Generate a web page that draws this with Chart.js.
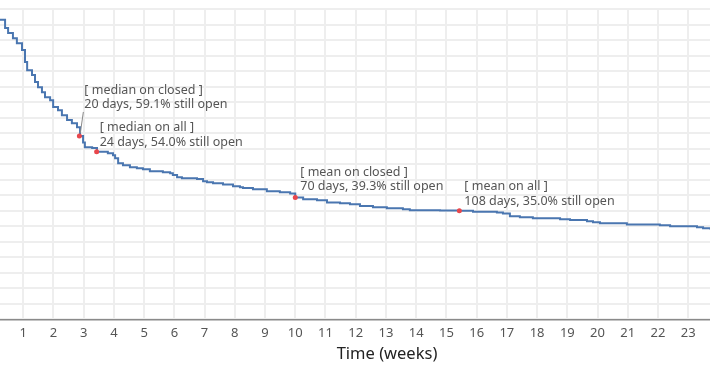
<!DOCTYPE html>
<html>
<head>
<meta charset="utf-8">
<script src="https://cdn.jsdelivr.net/npm/chart.js"></script>
<style>
  html, body { margin: 0; padding: 0; background: #fff; }
  #wrap { width: 710px; height: 375px; }
</style>
</head>
<body>
<div id="wrap"><canvas id="survChart"></canvas></div>
<script>
// share of issues still open (%) against time (weeks)
var weeks = [0.00, 0.23, 0.40, 0.50, 0.66, 0.79, 0.96, 1.06, 1.13, 1.29, 1.39, 1.49, 1.62, 1.72, 1.89,
  1.99, 2.15, 2.28, 2.45, 2.61, 2.78, 2.88, 2.98, 3.04, 3.28, 3.44, 3.80, 3.97, 4.04, 4.14,
  4.30, 4.53, 4.76, 4.96, 5.19, 5.62, 5.86, 5.95, 6.09, 6.25, 6.75, 6.95, 7.08, 7.28, 7.61,
  7.94, 8.17, 8.27, 8.60, 9.06, 9.49, 9.83, 10.00, 10.26, 10.72, 11.05, 11.48, 11.81, 12.14,
  12.57, 13.03, 13.56, 13.79, 14.79, 15.43, 15.88, 16.67, 16.87, 17.10, 17.43, 17.86, 18.76,
  19.09, 19.65, 19.85, 20.08, 20.97, 22.06, 22.40, 23.29, 23.49, 23.72];
var stillOpen = [100.0, 96.5, 93.9, 92.3, 90.6, 89.0, 86.8, 82.9, 80.3, 78.7, 76.5, 74.8, 73.2, 71.6, 70.6,
  68.4, 67.4, 65.8, 64.2, 63.2, 61.9, 59.1, 57.0, 55.5, 55.2, 54.0, 53.5, 52.9, 51.9, 50.3,
  49.7, 49.0, 48.7, 48.4, 47.7, 47.4, 47.1, 46.5, 45.8, 45.5, 45.2, 44.5, 44.2, 43.9, 43.5,
  42.9, 42.6, 42.3, 41.9, 41.3, 41.0, 40.6, 39.3, 38.7, 38.4, 37.7, 37.4, 37.1, 36.5,
  36.1, 35.8, 35.5, 35.2, 35.1, 35.0, 34.7, 34.4, 34.1, 33.2, 32.9, 32.6, 32.3,
  32.0, 31.6, 31.3, 31.0, 30.6, 30.3, 30.0, 29.7, 29.4, 29.0];

// marked statistics
var markNames = ['median on closed', 'median on all', 'mean on closed', 'mean on all'];
var markDays = [20, 24, 70, 108];
var markOpen = [59.1, 54.0, 39.3, 35.0];

var weekTicks = [1, 2, 3, 4, 5, 6, 7, 8, 9, 10, 11, 12, 13, 14, 15, 16, 17, 18, 19, 20, 21, 22, 23];
var xTitle = 'Time (weeks)';

var FONT = "'Noto Sans', sans-serif";

var curve = weeks.map(function(w, i) { return { x: w, y: stillOpen[i] }; });
var marks = markDays.map(function(d, i) { return { x: d / 7, y: markOpen[i] }; });

// label offsets from the marked point, in pixels
var labelOffsets = [
  { dx: 5, dy: -46, leader: true },
  { dx: 3, dy: -24, leader: false },
  { dx: 5, dy: -25, leader: false },
  { dx: 5, dy: -24, leader: false }
];

var markLabels = {
  id: 'markLabels',
  afterDatasetsDraw: function(chart) {
    var ctx = chart.ctx;
    var xs = chart.scales.x, ys = chart.scales.y;
    ctx.save();
    ctx.font = '12.5px ' + FONT;
    ctx.fillStyle = '#555';
    ctx.textBaseline = 'middle';
    marks.forEach(function(m, i) {
      var px = xs.getPixelForValue(m.x);
      var py = ys.getPixelForValue(m.y);
      var o = labelOffsets[i];
      var tx = px + o.dx, ty = py + o.dy;
      if (o.leader) {
        ctx.strokeStyle = '#888';
        ctx.lineWidth = 1;
        ctx.beginPath();
        ctx.moveTo(px + 1, py - 3);
        ctx.lineTo(tx - 1, ty + 22);
        ctx.stroke();
      }
      ctx.fillText('[ ' + markNames[i] + ' ]', tx, ty);
      ctx.fillText(markDays[i] + ' days, ' + markOpen[i].toFixed(1) + '% still open', tx, ty + 14.5);
    });
    // axis title: the original plot is wider than the view, so its title sits right of centre
    ctx.font = '16.5px ' + FONT;
    ctx.fillStyle = '#222';
    ctx.textAlign = 'center';
    ctx.fillText(xTitle, 387, xs.bottom + 7);
    ctx.restore();
  }
};

new Chart(document.getElementById('survChart').getContext('2d'), {
  type: 'scatter',
  data: {
    datasets: [{
      data: marks,
      showLine: false,
      pointRadius: 2.5,
      pointBackgroundColor: '#e8474c',
      pointBorderWidth: 0
    }, {
      data: curve,
      showLine: true,
      stepped: 'before',
      borderColor: '#4a76b0',
      borderWidth: 2,
      pointRadius: 0,
      fill: false
    }]
  },
  options: {
    responsive: true,
    maintainAspectRatio: false,
    animation: false,
    layout: { autoPadding: false, padding: { top: 9, left: 0, right: 0, bottom: 28 } },
    plugins: { legend: { display: false }, tooltip: { enabled: false } },
    scales: {
      x: {
        type: 'linear',
        min: 0.232,
        max: 23.72,
        afterBuildTicks: function(scale) {
          scale.ticks = weekTicks.map(function(v) { return { value: v }; });
        },
        grid: { color: '#eeeeee', lineWidth: 2, drawTicks: false },
        border: { display: true, color: '#8a8a8a', width: 1.5 },
        ticks: { font: { family: FONT, size: 13 }, color: '#555', padding: 6, maxRotation: 0, autoSkip: false }
      },
      y: {
        min: 0,
        max: 100,
        ticks: { display: false, stepSize: 5 },
        grid: { color: '#eeeeee', lineWidth: 2, drawTicks: false },
        border: { display: false }
      }
    }
  },
  plugins: [markLabels]
});
</script>
</body>
</html>
